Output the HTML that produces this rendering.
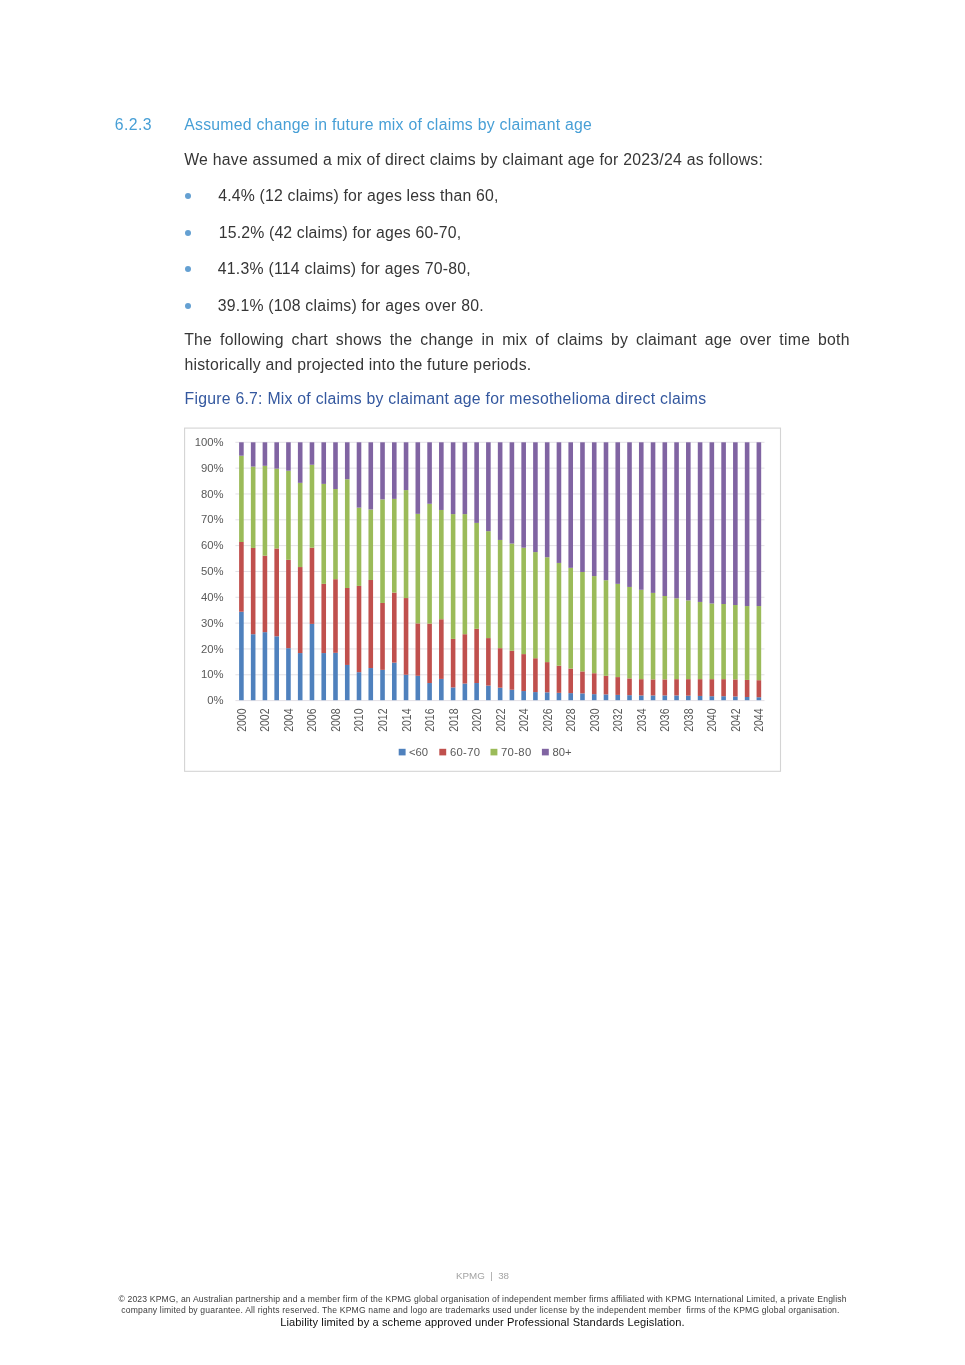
<!DOCTYPE html>
<html lang="en">
<head>
<meta charset="utf-8">
<title>KPMG | 38</title>
<style>
html,body{margin:0;padding:0;background:#fff;}
body{width:965px;height:1365px;position:relative;overflow:hidden;font-family:"Liberation Sans",sans-serif;color:#363636;}
.t{position:absolute;white-space:nowrap;}
.h{color:#479fd6;}
.cap{color:#34589f;}
.pgn{color:#a3a3a3;}
.f{color:#3c3c3c;}
.f3{color:#111;}
.bul{position:absolute;width:6.2px;height:6.2px;border-radius:50%;background:#64a0d2;}
.just{white-space:normal;text-align:justify;text-align-last:justify;}
.chart{position:absolute;left:0;top:0;}
</style>
</head>
<body>
<svg class="chart" width="965" height="1365" viewBox="0 0 965 1365">
<rect x="184.6" y="428.1" width="595.9" height="343.2" fill="#fff" stroke="#D4D4D4" stroke-width="1.1"/>
<line x1="235.4" x2="764.5" y1="700.60" y2="700.60" stroke="#E3E1E6" stroke-width="1"/>
<line x1="235.4" x2="764.5" y1="674.77" y2="674.77" stroke="#E3E1E6" stroke-width="1"/>
<line x1="235.4" x2="764.5" y1="648.94" y2="648.94" stroke="#E3E1E6" stroke-width="1"/>
<line x1="235.4" x2="764.5" y1="623.11" y2="623.11" stroke="#E3E1E6" stroke-width="1"/>
<line x1="235.4" x2="764.5" y1="597.28" y2="597.28" stroke="#E3E1E6" stroke-width="1"/>
<line x1="235.4" x2="764.5" y1="571.45" y2="571.45" stroke="#E3E1E6" stroke-width="1"/>
<line x1="235.4" x2="764.5" y1="545.62" y2="545.62" stroke="#E3E1E6" stroke-width="1"/>
<line x1="235.4" x2="764.5" y1="519.79" y2="519.79" stroke="#E3E1E6" stroke-width="1"/>
<line x1="235.4" x2="764.5" y1="493.96" y2="493.96" stroke="#E3E1E6" stroke-width="1"/>
<line x1="235.4" x2="764.5" y1="468.13" y2="468.13" stroke="#E3E1E6" stroke-width="1"/>
<line x1="235.4" x2="764.5" y1="442.30" y2="442.30" stroke="#E3E1E6" stroke-width="1"/>
<g font-family="Liberation Sans, sans-serif" font-size="10.1" fill="#595959" text-anchor="end">
<text transform="translate(223.6,704.20) scale(1.12,1)">0%</text>
<text transform="translate(223.6,678.37) scale(1.12,1)">10%</text>
<text transform="translate(223.6,652.54) scale(1.12,1)">20%</text>
<text transform="translate(223.6,626.71) scale(1.12,1)">30%</text>
<text transform="translate(223.6,600.88) scale(1.12,1)">40%</text>
<text transform="translate(223.6,575.05) scale(1.12,1)">50%</text>
<text transform="translate(223.6,549.22) scale(1.12,1)">60%</text>
<text transform="translate(223.6,523.39) scale(1.12,1)">70%</text>
<text transform="translate(223.6,497.56) scale(1.12,1)">80%</text>
<text transform="translate(223.6,471.73) scale(1.12,1)">90%</text>
<text transform="translate(223.6,445.90) scale(1.12,1)">100%</text>
</g>
<rect x="239.10" y="611.74" width="4.6" height="88.46" fill="#4F81BD"/>
<rect x="239.10" y="542.00" width="4.6" height="69.74" fill="#C0504D"/>
<rect x="239.10" y="455.73" width="4.6" height="86.27" fill="#9BBB59"/>
<rect x="239.10" y="442.30" width="4.6" height="13.43" fill="#8064A2"/>
<rect x="250.86" y="634.22" width="4.6" height="65.98" fill="#4F81BD"/>
<rect x="250.86" y="547.94" width="4.6" height="86.27" fill="#C0504D"/>
<rect x="250.86" y="466.58" width="4.6" height="81.36" fill="#9BBB59"/>
<rect x="250.86" y="442.30" width="4.6" height="24.28" fill="#8064A2"/>
<rect x="262.62" y="632.15" width="4.6" height="68.05" fill="#4F81BD"/>
<rect x="262.62" y="555.69" width="4.6" height="76.46" fill="#C0504D"/>
<rect x="262.62" y="465.81" width="4.6" height="89.89" fill="#9BBB59"/>
<rect x="262.62" y="442.30" width="4.6" height="23.51" fill="#8064A2"/>
<rect x="274.38" y="636.28" width="4.6" height="63.92" fill="#4F81BD"/>
<rect x="274.38" y="548.46" width="4.6" height="87.82" fill="#C0504D"/>
<rect x="274.38" y="468.65" width="4.6" height="79.81" fill="#9BBB59"/>
<rect x="274.38" y="442.30" width="4.6" height="26.35" fill="#8064A2"/>
<rect x="286.14" y="648.17" width="4.6" height="52.03" fill="#4F81BD"/>
<rect x="286.14" y="559.83" width="4.6" height="88.34" fill="#C0504D"/>
<rect x="286.14" y="470.71" width="4.6" height="89.11" fill="#9BBB59"/>
<rect x="286.14" y="442.30" width="4.6" height="28.41" fill="#8064A2"/>
<rect x="297.90" y="653.07" width="4.6" height="47.13" fill="#4F81BD"/>
<rect x="297.90" y="567.06" width="4.6" height="86.01" fill="#C0504D"/>
<rect x="297.90" y="482.85" width="4.6" height="84.21" fill="#9BBB59"/>
<rect x="297.90" y="442.30" width="4.6" height="40.55" fill="#8064A2"/>
<rect x="309.67" y="623.88" width="4.6" height="76.32" fill="#4F81BD"/>
<rect x="309.67" y="547.69" width="4.6" height="76.20" fill="#C0504D"/>
<rect x="309.67" y="464.77" width="4.6" height="82.91" fill="#9BBB59"/>
<rect x="309.67" y="442.30" width="4.6" height="22.47" fill="#8064A2"/>
<rect x="321.43" y="653.07" width="4.6" height="47.13" fill="#4F81BD"/>
<rect x="321.43" y="583.85" width="4.6" height="69.22" fill="#C0504D"/>
<rect x="321.43" y="483.89" width="4.6" height="99.96" fill="#9BBB59"/>
<rect x="321.43" y="442.30" width="4.6" height="41.59" fill="#8064A2"/>
<rect x="333.19" y="652.81" width="4.6" height="47.39" fill="#4F81BD"/>
<rect x="333.19" y="579.20" width="4.6" height="73.62" fill="#C0504D"/>
<rect x="333.19" y="489.05" width="4.6" height="90.15" fill="#9BBB59"/>
<rect x="333.19" y="442.30" width="4.6" height="46.75" fill="#8064A2"/>
<rect x="344.95" y="664.95" width="4.6" height="35.25" fill="#4F81BD"/>
<rect x="344.95" y="587.98" width="4.6" height="76.97" fill="#C0504D"/>
<rect x="344.95" y="479.24" width="4.6" height="108.74" fill="#9BBB59"/>
<rect x="344.95" y="442.30" width="4.6" height="36.94" fill="#8064A2"/>
<rect x="356.71" y="672.19" width="4.6" height="28.01" fill="#4F81BD"/>
<rect x="356.71" y="585.91" width="4.6" height="86.27" fill="#C0504D"/>
<rect x="356.71" y="507.65" width="4.6" height="78.26" fill="#9BBB59"/>
<rect x="356.71" y="442.30" width="4.6" height="65.35" fill="#8064A2"/>
<rect x="368.47" y="668.05" width="4.6" height="32.15" fill="#4F81BD"/>
<rect x="368.47" y="579.97" width="4.6" height="88.08" fill="#C0504D"/>
<rect x="368.47" y="509.46" width="4.6" height="70.52" fill="#9BBB59"/>
<rect x="368.47" y="442.30" width="4.6" height="67.16" fill="#8064A2"/>
<rect x="380.23" y="669.86" width="4.6" height="30.34" fill="#4F81BD"/>
<rect x="380.23" y="602.96" width="4.6" height="66.90" fill="#C0504D"/>
<rect x="380.23" y="499.38" width="4.6" height="103.58" fill="#9BBB59"/>
<rect x="380.23" y="442.30" width="4.6" height="57.08" fill="#8064A2"/>
<rect x="391.99" y="662.63" width="4.6" height="37.57" fill="#4F81BD"/>
<rect x="391.99" y="592.63" width="4.6" height="70.00" fill="#C0504D"/>
<rect x="391.99" y="498.87" width="4.6" height="93.76" fill="#9BBB59"/>
<rect x="391.99" y="442.30" width="4.6" height="56.57" fill="#8064A2"/>
<rect x="403.75" y="674.77" width="4.6" height="25.43" fill="#4F81BD"/>
<rect x="403.75" y="598.05" width="4.6" height="76.72" fill="#C0504D"/>
<rect x="403.75" y="490.09" width="4.6" height="107.97" fill="#9BBB59"/>
<rect x="403.75" y="442.30" width="4.6" height="47.79" fill="#8064A2"/>
<rect x="415.51" y="675.80" width="4.6" height="24.40" fill="#4F81BD"/>
<rect x="415.51" y="623.37" width="4.6" height="52.43" fill="#C0504D"/>
<rect x="415.51" y="513.85" width="4.6" height="109.52" fill="#9BBB59"/>
<rect x="415.51" y="442.30" width="4.6" height="71.55" fill="#8064A2"/>
<rect x="427.28" y="683.04" width="4.6" height="17.16" fill="#4F81BD"/>
<rect x="427.28" y="623.63" width="4.6" height="59.41" fill="#C0504D"/>
<rect x="427.28" y="503.78" width="4.6" height="119.85" fill="#9BBB59"/>
<rect x="427.28" y="442.30" width="4.6" height="61.48" fill="#8064A2"/>
<rect x="439.04" y="678.90" width="4.6" height="21.30" fill="#4F81BD"/>
<rect x="439.04" y="619.24" width="4.6" height="59.67" fill="#C0504D"/>
<rect x="439.04" y="509.97" width="4.6" height="109.26" fill="#9BBB59"/>
<rect x="439.04" y="442.30" width="4.6" height="67.67" fill="#8064A2"/>
<rect x="450.80" y="687.43" width="4.6" height="12.77" fill="#4F81BD"/>
<rect x="450.80" y="638.87" width="4.6" height="48.56" fill="#C0504D"/>
<rect x="450.80" y="514.11" width="4.6" height="124.76" fill="#9BBB59"/>
<rect x="450.80" y="442.30" width="4.6" height="71.81" fill="#8064A2"/>
<rect x="462.56" y="683.55" width="4.6" height="16.65" fill="#4F81BD"/>
<rect x="462.56" y="634.22" width="4.6" height="49.34" fill="#C0504D"/>
<rect x="462.56" y="514.11" width="4.6" height="120.11" fill="#9BBB59"/>
<rect x="462.56" y="442.30" width="4.6" height="71.81" fill="#8064A2"/>
<rect x="474.32" y="683.04" width="4.6" height="17.16" fill="#4F81BD"/>
<rect x="474.32" y="628.79" width="4.6" height="54.24" fill="#C0504D"/>
<rect x="474.32" y="522.89" width="4.6" height="105.90" fill="#9BBB59"/>
<rect x="474.32" y="442.30" width="4.6" height="80.59" fill="#8064A2"/>
<rect x="486.08" y="685.62" width="4.6" height="14.58" fill="#4F81BD"/>
<rect x="486.08" y="638.09" width="4.6" height="47.53" fill="#C0504D"/>
<rect x="486.08" y="531.16" width="4.6" height="106.94" fill="#9BBB59"/>
<rect x="486.08" y="442.30" width="4.6" height="88.86" fill="#8064A2"/>
<rect x="497.84" y="687.69" width="4.6" height="12.51" fill="#4F81BD"/>
<rect x="497.84" y="648.17" width="4.6" height="39.52" fill="#C0504D"/>
<rect x="497.84" y="539.94" width="4.6" height="108.23" fill="#9BBB59"/>
<rect x="497.84" y="442.30" width="4.6" height="97.64" fill="#8064A2"/>
<rect x="509.60" y="689.75" width="4.6" height="10.45" fill="#4F81BD"/>
<rect x="509.60" y="650.75" width="4.6" height="39.00" fill="#C0504D"/>
<rect x="509.60" y="543.55" width="4.6" height="107.19" fill="#9BBB59"/>
<rect x="509.60" y="442.30" width="4.6" height="101.25" fill="#8064A2"/>
<rect x="521.36" y="691.04" width="4.6" height="9.16" fill="#4F81BD"/>
<rect x="521.36" y="654.11" width="4.6" height="36.94" fill="#C0504D"/>
<rect x="521.36" y="547.69" width="4.6" height="106.42" fill="#9BBB59"/>
<rect x="521.36" y="442.30" width="4.6" height="105.39" fill="#8064A2"/>
<rect x="533.12" y="692.08" width="4.6" height="8.12" fill="#4F81BD"/>
<rect x="533.12" y="658.24" width="4.6" height="33.84" fill="#C0504D"/>
<rect x="533.12" y="552.08" width="4.6" height="106.16" fill="#9BBB59"/>
<rect x="533.12" y="442.30" width="4.6" height="109.78" fill="#8064A2"/>
<rect x="544.89" y="692.33" width="4.6" height="7.87" fill="#4F81BD"/>
<rect x="544.89" y="662.11" width="4.6" height="30.22" fill="#C0504D"/>
<rect x="544.89" y="557.24" width="4.6" height="104.87" fill="#9BBB59"/>
<rect x="544.89" y="442.30" width="4.6" height="114.94" fill="#8064A2"/>
<rect x="556.65" y="692.85" width="4.6" height="7.35" fill="#4F81BD"/>
<rect x="556.65" y="665.73" width="4.6" height="27.12" fill="#C0504D"/>
<rect x="556.65" y="562.93" width="4.6" height="102.80" fill="#9BBB59"/>
<rect x="556.65" y="442.30" width="4.6" height="120.63" fill="#8064A2"/>
<rect x="568.41" y="693.11" width="4.6" height="7.09" fill="#4F81BD"/>
<rect x="568.41" y="668.57" width="4.6" height="24.54" fill="#C0504D"/>
<rect x="568.41" y="567.83" width="4.6" height="100.74" fill="#9BBB59"/>
<rect x="568.41" y="442.30" width="4.6" height="125.53" fill="#8064A2"/>
<rect x="580.17" y="693.37" width="4.6" height="6.83" fill="#4F81BD"/>
<rect x="580.17" y="671.41" width="4.6" height="21.96" fill="#C0504D"/>
<rect x="580.17" y="571.97" width="4.6" height="99.45" fill="#9BBB59"/>
<rect x="580.17" y="442.30" width="4.6" height="129.67" fill="#8064A2"/>
<rect x="591.93" y="694.14" width="4.6" height="6.06" fill="#4F81BD"/>
<rect x="591.93" y="673.22" width="4.6" height="20.92" fill="#C0504D"/>
<rect x="591.93" y="576.10" width="4.6" height="97.12" fill="#9BBB59"/>
<rect x="591.93" y="442.30" width="4.6" height="133.80" fill="#8064A2"/>
<rect x="603.69" y="694.40" width="4.6" height="5.80" fill="#4F81BD"/>
<rect x="603.69" y="675.80" width="4.6" height="18.60" fill="#C0504D"/>
<rect x="603.69" y="580.23" width="4.6" height="95.57" fill="#9BBB59"/>
<rect x="603.69" y="442.30" width="4.6" height="137.93" fill="#8064A2"/>
<rect x="615.45" y="694.92" width="4.6" height="5.28" fill="#4F81BD"/>
<rect x="615.45" y="677.09" width="4.6" height="17.82" fill="#C0504D"/>
<rect x="615.45" y="583.85" width="4.6" height="93.25" fill="#9BBB59"/>
<rect x="615.45" y="442.30" width="4.6" height="141.55" fill="#8064A2"/>
<rect x="627.21" y="695.18" width="4.6" height="5.02" fill="#4F81BD"/>
<rect x="627.21" y="678.39" width="4.6" height="16.79" fill="#C0504D"/>
<rect x="627.21" y="586.95" width="4.6" height="91.44" fill="#9BBB59"/>
<rect x="627.21" y="442.30" width="4.6" height="144.65" fill="#8064A2"/>
<rect x="638.97" y="695.43" width="4.6" height="4.77" fill="#4F81BD"/>
<rect x="638.97" y="679.16" width="4.6" height="16.27" fill="#C0504D"/>
<rect x="638.97" y="589.79" width="4.6" height="89.37" fill="#9BBB59"/>
<rect x="638.97" y="442.30" width="4.6" height="147.49" fill="#8064A2"/>
<rect x="650.74" y="695.43" width="4.6" height="4.77" fill="#4F81BD"/>
<rect x="650.74" y="679.42" width="4.6" height="16.01" fill="#C0504D"/>
<rect x="650.74" y="592.89" width="4.6" height="86.53" fill="#9BBB59"/>
<rect x="650.74" y="442.30" width="4.6" height="150.59" fill="#8064A2"/>
<rect x="662.50" y="695.43" width="4.6" height="4.77" fill="#4F81BD"/>
<rect x="662.50" y="679.42" width="4.6" height="16.01" fill="#C0504D"/>
<rect x="662.50" y="595.99" width="4.6" height="83.43" fill="#9BBB59"/>
<rect x="662.50" y="442.30" width="4.6" height="153.69" fill="#8064A2"/>
<rect x="674.26" y="695.43" width="4.6" height="4.77" fill="#4F81BD"/>
<rect x="674.26" y="679.16" width="4.6" height="16.27" fill="#C0504D"/>
<rect x="674.26" y="598.31" width="4.6" height="80.85" fill="#9BBB59"/>
<rect x="674.26" y="442.30" width="4.6" height="156.01" fill="#8064A2"/>
<rect x="686.02" y="695.69" width="4.6" height="4.51" fill="#4F81BD"/>
<rect x="686.02" y="679.16" width="4.6" height="16.53" fill="#C0504D"/>
<rect x="686.02" y="600.38" width="4.6" height="78.78" fill="#9BBB59"/>
<rect x="686.02" y="442.30" width="4.6" height="158.08" fill="#8064A2"/>
<rect x="697.78" y="695.95" width="4.6" height="4.25" fill="#4F81BD"/>
<rect x="697.78" y="679.16" width="4.6" height="16.79" fill="#C0504D"/>
<rect x="697.78" y="601.93" width="4.6" height="77.23" fill="#9BBB59"/>
<rect x="697.78" y="442.30" width="4.6" height="159.63" fill="#8064A2"/>
<rect x="709.54" y="696.21" width="4.6" height="3.99" fill="#4F81BD"/>
<rect x="709.54" y="679.16" width="4.6" height="17.05" fill="#C0504D"/>
<rect x="709.54" y="603.48" width="4.6" height="75.68" fill="#9BBB59"/>
<rect x="709.54" y="442.30" width="4.6" height="161.18" fill="#8064A2"/>
<rect x="721.30" y="696.21" width="4.6" height="3.99" fill="#4F81BD"/>
<rect x="721.30" y="679.16" width="4.6" height="17.05" fill="#C0504D"/>
<rect x="721.30" y="604.00" width="4.6" height="75.17" fill="#9BBB59"/>
<rect x="721.30" y="442.30" width="4.6" height="161.70" fill="#8064A2"/>
<rect x="733.06" y="696.47" width="4.6" height="3.73" fill="#4F81BD"/>
<rect x="733.06" y="679.42" width="4.6" height="17.05" fill="#C0504D"/>
<rect x="733.06" y="605.03" width="4.6" height="74.39" fill="#9BBB59"/>
<rect x="733.06" y="442.30" width="4.6" height="162.73" fill="#8064A2"/>
<rect x="744.82" y="696.98" width="4.6" height="3.22" fill="#4F81BD"/>
<rect x="744.82" y="679.94" width="4.6" height="17.05" fill="#C0504D"/>
<rect x="744.82" y="606.06" width="4.6" height="73.87" fill="#9BBB59"/>
<rect x="744.82" y="442.30" width="4.6" height="163.76" fill="#8064A2"/>
<rect x="756.58" y="697.24" width="4.6" height="2.96" fill="#4F81BD"/>
<rect x="756.58" y="680.19" width="4.6" height="17.05" fill="#C0504D"/>
<rect x="756.58" y="606.06" width="4.6" height="74.13" fill="#9BBB59"/>
<rect x="756.58" y="442.30" width="4.6" height="163.76" fill="#8064A2"/>
<g font-family="Liberation Sans, sans-serif" font-size="10.5" fill="#595959" text-anchor="end">
<text transform="translate(245.85,708.5) scale(1.13,1) rotate(-90)">2000</text>
<text transform="translate(269.37,708.5) scale(1.13,1) rotate(-90)">2002</text>
<text transform="translate(292.89,708.5) scale(1.13,1) rotate(-90)">2004</text>
<text transform="translate(316.42,708.5) scale(1.13,1) rotate(-90)">2006</text>
<text transform="translate(339.94,708.5) scale(1.13,1) rotate(-90)">2008</text>
<text transform="translate(363.46,708.5) scale(1.13,1) rotate(-90)">2010</text>
<text transform="translate(386.98,708.5) scale(1.13,1) rotate(-90)">2012</text>
<text transform="translate(410.50,708.5) scale(1.13,1) rotate(-90)">2014</text>
<text transform="translate(434.03,708.5) scale(1.13,1) rotate(-90)">2016</text>
<text transform="translate(457.55,708.5) scale(1.13,1) rotate(-90)">2018</text>
<text transform="translate(481.07,708.5) scale(1.13,1) rotate(-90)">2020</text>
<text transform="translate(504.59,708.5) scale(1.13,1) rotate(-90)">2022</text>
<text transform="translate(528.11,708.5) scale(1.13,1) rotate(-90)">2024</text>
<text transform="translate(551.64,708.5) scale(1.13,1) rotate(-90)">2026</text>
<text transform="translate(575.16,708.5) scale(1.13,1) rotate(-90)">2028</text>
<text transform="translate(598.68,708.5) scale(1.13,1) rotate(-90)">2030</text>
<text transform="translate(622.20,708.5) scale(1.13,1) rotate(-90)">2032</text>
<text transform="translate(645.72,708.5) scale(1.13,1) rotate(-90)">2034</text>
<text transform="translate(669.25,708.5) scale(1.13,1) rotate(-90)">2036</text>
<text transform="translate(692.77,708.5) scale(1.13,1) rotate(-90)">2038</text>
<text transform="translate(716.29,708.5) scale(1.13,1) rotate(-90)">2040</text>
<text transform="translate(739.81,708.5) scale(1.13,1) rotate(-90)">2042</text>
<text transform="translate(763.33,708.5) scale(1.13,1) rotate(-90)">2044</text>
</g>
<g font-family="Liberation Sans, sans-serif" font-size="10.1" fill="#595959">
<rect x="398.7" y="748.8" width="6.9" height="6.6" fill="#4F81BD"/>
<text transform="translate(408.9,755.7) scale(1.12,1)" letter-spacing="0.0">&lt;60</text>
<rect x="439.3" y="748.8" width="6.9" height="6.6" fill="#C0504D"/>
<text transform="translate(449.9,755.7) scale(1.12,1)" letter-spacing="0.27">60-70</text>
<rect x="490.5" y="748.8" width="6.9" height="6.6" fill="#9BBB59"/>
<text transform="translate(500.9,755.7) scale(1.12,1)" letter-spacing="0.32">70-80</text>
<rect x="541.9" y="748.8" width="6.9" height="6.6" fill="#8064A2"/>
<text transform="translate(552.5,755.7) scale(1.12,1)" letter-spacing="0.0">80+</text>
</g>
</svg>
<div class="t h" id="hn" style="left:114.80px;top:114.83px;font-size:15.8px;line-height:20px;letter-spacing:0.400px;">6.2.3</div>
<div class="t h" id="h2" style="left:184.20px;top:114.83px;font-size:15.8px;line-height:20px;letter-spacing:0.253px;">Assumed change in future mix of claims by claimant age</div>
<div class="t " id="p1" style="left:184.20px;top:149.73px;font-size:15.8px;line-height:20px;letter-spacing:0.244px;">We have assumed a mix of direct claims by claimant age for 2023/24 as follows:</div>
<div class="t " id="b1" style="left:218.30px;top:185.63px;font-size:15.8px;line-height:20px;letter-spacing:0.184px;">4.4% (12 claims) for ages less than 60,</div>
<div class="t " id="b2" style="left:218.80px;top:222.53px;font-size:15.8px;line-height:20px;letter-spacing:0.163px;">15.2% (42 claims) for ages 60-70,</div>
<div class="t " id="b3" style="left:217.80px;top:259.33px;font-size:15.8px;line-height:20px;letter-spacing:0.248px;">41.3% (114 claims) for ages 70-80,</div>
<div class="t " id="b4" style="left:217.80px;top:295.63px;font-size:15.8px;line-height:20px;letter-spacing:0.217px;">39.1% (108 claims) for ages over 80.</div>
<div class="t " id="p2b" style="left:184.50px;top:354.73px;font-size:15.8px;line-height:20px;letter-spacing:0.224px;">historically and projected into the future periods.</div>
<div class="t cap" id="cap" style="left:184.50px;top:388.63px;font-size:15.8px;line-height:20px;letter-spacing:0.248px;">Figure 6.7: Mix of claims by claimant age for mesothelioma direct claims</div>
<div class="t pgn" id="pg" style="left:456.10px;top:1270.00px;font-size:9.8px;line-height:12px;letter-spacing:-0.020px;">KPMG&nbsp;&nbsp;|&nbsp;&nbsp;38</div>
<div class="t f" id="f1" style="left:118.40px;top:1292.82px;font-size:8.6px;line-height:12px;letter-spacing:0.171px;">© 2023 KPMG, an Australian partnership and a member firm of the KPMG global organisation of independent member firms affiliated with KPMG International Limited, a private English</div>
<div class="t f" id="f2" style="left:121.30px;top:1303.52px;font-size:8.6px;line-height:12px;letter-spacing:0.163px;">company limited by guarantee. All rights reserved. The KPMG name and logo are trademarks used under license by the independent member &nbsp;firms of the KPMG global organisation.</div>
<div class="t f3" id="f3" style="left:280.20px;top:1316.05px;font-size:11.1px;line-height:12px;letter-spacing:0.109px;">Liability limited by a scheme approved under Professional Standards Legislation.</div>
<div class="t just" id="p2a" style="left:184.2px;top:330.03px;width:665.6px;font-size:15.8px;line-height:20px;letter-spacing:0.240px;">The following chart shows the change in mix of claims by claimant age over time both</div>
<div class="bul" style="left:185.0px;top:193.1px;"></div>
<div class="bul" style="left:185.0px;top:229.5px;"></div>
<div class="bul" style="left:185.0px;top:266.1px;"></div>
<div class="bul" style="left:185.0px;top:302.8px;"></div>
</body>
</html>
